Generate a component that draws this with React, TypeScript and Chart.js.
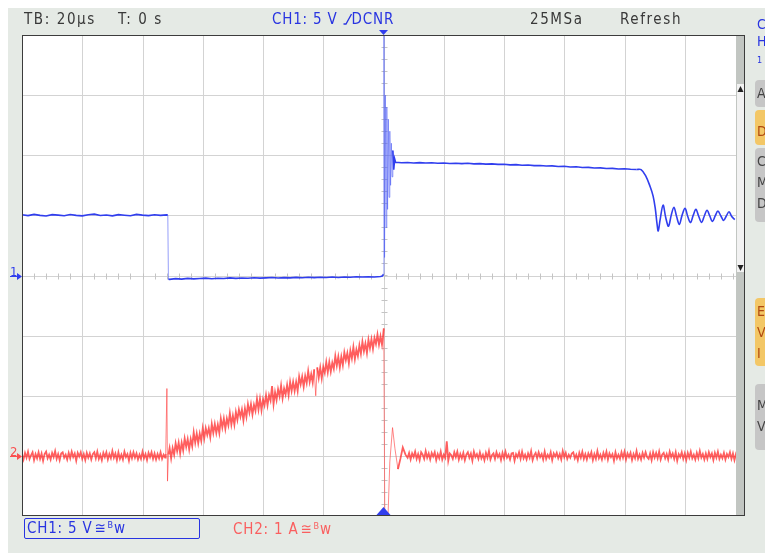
import React, { useEffect, useRef } from "react";
import { Chart, registerables } from "chart.js";

Chart.register(...registerables);

// ---------- scope settings ----------
const TIME_MIN_US = -120;
const TIME_MAX_US = 120;
const TIME_PER_DIV_US = 20;
const MINOR_PER_DIV = 5;
const DIV_MIN = -4;
const DIV_MAX = 4;

const CH1_VOLTS_PER_DIV = 5;
const CH1_GROUND_DIV = 0;
const CH2_AMPS_PER_DIV = 1;
const CH2_GROUND_DIV = -3;

// ---------- CH1 (volts) ----------
const ch1BeforeStartUs = -120;
const ch1BeforeStepUs = 2;
const ch1Before = [5.05, 4.98, 5.08, 5.0, 4.95, 5.06, 5.02, 4.97, 5.07, 5.0, 4.96, 5.05, 5.1, 4.99, 5.03, 4.96, 5.06, 5.01, 4.97, 5.08, 5.02, 4.98, 5.05, 5.0, 5.04];
const ch1FallingEdge: [number, number][] = [[-71.6, 5.02], [-71.4, -0.3]];
const ch1LowStartUs = -71;
const ch1LowStepUs = 2;
const ch1Low = [-0.32, -0.26, -0.3, -0.24, -0.28, -0.25, -0.22, -0.27, -0.23, -0.25, -0.2, -0.24, -0.21, -0.23, -0.19, -0.22, -0.2, -0.17, -0.21, -0.18, -0.2, -0.16, -0.19, -0.15, -0.18, -0.14, -0.17, -0.13, -0.16, -0.12, -0.15, -0.11, -0.13, -0.1, -0.12, -0.08];
const ch1TriggerRinging: [number, number][] = [
  [-0.4, -0.05], [0, 0.1], [0.15, 21], [0.35, 1.5], [0.6, 15], [0.85, 4], [1.1, 14], [1.35, 5.5],
  [1.6, 13], [1.85, 6.5], [2.1, 12], [2.35, 7.5], [2.6, 11], [2.85, 8.2], [3.1, 10.4], [3.4, 8.8], [3.7, 9.7],
];
const ch1PlateauStartUs = 4;
const ch1PlateauStepUs = 2;
const ch1Plateau = [9.42, 9.38, 9.4, 9.36, 9.39, 9.35, 9.37, 9.33, 9.36, 9.32, 9.34, 9.3, 9.33, 9.28, 9.3, 9.26, 9.28, 9.24, 9.25, 9.2, 9.22, 9.17, 9.19, 9.14, 9.15, 9.1, 9.12, 9.06, 9.08, 9.02, 9.04, 8.98, 8.99, 8.94, 8.95, 8.9, 8.91, 8.86, 8.88, 8.83, 8.82];
const ch1TailRinging: [number, number][] = [
  [85.5, 8.8], [87, 8.3], [88.5, 7.4], [89.5, 6.6], [90.2, 5.6], [90.8, 4.3], [91.2, 3.7], [91.8, 4.6],
  [92.8, 5.85], [93.7, 4.8], [94.6, 4.1], [95.5, 5.0], [96.4, 5.68], [97.3, 4.9], [98.2, 4.25], [99.1, 5.0],
  [100.1, 5.58], [101.0, 4.9], [101.9, 4.4], [102.8, 5.0], [103.7, 5.5], [104.6, 4.95], [105.6, 4.42],
  [106.5, 4.95], [107.4, 5.42], [108.3, 4.95], [109.2, 4.5], [110.1, 4.95], [111.0, 5.35], [112.0, 4.95],
  [112.9, 4.58], [113.8, 4.95], [114.7, 5.3], [115.6, 4.9], [116.6, 4.65],
];

// ---------- CH2 (amps) ----------
const ch2BeforeStartUs = -120;
const ch2BeforeStepUs = 0.5;
const ch2Before = [
  0.02, -0.06, 0.05, -0.03, 0.07, -0.05, 0.01, 0.06, -0.07, 0.03,
  -0.04, 0.06, -0.05, 0.04, -0.08, 0.03, 0.07, -0.04, 0.02, -0.06,
  0.05, -0.02, 0.08, -0.05, 0.03, -0.07, 0.04, 0.06, -0.03, 0.02,
  -0.06, 0.05, -0.04, 0.07, -0.02, 0.04, -0.08, 0.05, -0.01, 0.06,
  -0.05, 0.03, -0.07, 0.05, -0.03, 0.04, -0.06, 0.03, 0.06, -0.04,
  0.07, -0.05, 0.02, -0.07, 0.05, -0.02, 0.06, -0.06, 0.03, -0.04,
  0.08, -0.03, 0.04, -0.07, 0.06, -0.05, 0.02, -0.06, 0.07, -0.02,
  0.03, -0.08, 0.05, -0.04, 0.06, -0.03, 0.04, -0.06, 0.02, -0.05,
  0.07, -0.04, 0.03, -0.07, 0.05, -0.02, 0.06, -0.05, 0.04, -0.06,
  0.03, -0.04, 0.06, -0.05, 0.02, -0.03,
];
const ch2SwitchOn: [number, number][] = [[-72.3, 0.03], [-71.9, 1.12], [-71.7, -0.42], [-71.4, 0.02]];
const ch2RampStartUs = -71;
const ch2RampStepUs = 0.5;
const ch2Ramp = [
  0.13, -0.04, 0.13, 0.02, 0.21, 0.08, 0.22, 0.04, 0.22, 0.09,
  0.29, 0.15, 0.28, 0.11, 0.28, 0.16, 0.39, 0.22, 0.37, 0.21,
  0.37, 0.25, 0.46, 0.29, 0.46, 0.35, 0.46, 0.31, 0.53, 0.38,
  0.53, 0.38, 0.52, 0.38, 0.62, 0.47, 0.62, 0.45, 0.62, 0.51,
  0.71, 0.52, 0.67, 0.52, 0.73, 0.6, 0.77, 0.65, 0.77, 0.59,
  0.79, 0.65, 0.86, 0.72, 0.86, 0.69, 0.85, 0.75, 0.95, 0.77,
  0.95, 0.76, 0.94, 0.84, 1.01, 0.84, 1.01, 0.92, 1.16, 0.86,
  1.06, 0.93, 1.11, 0.99, 1.17, 0.96, 1.12, 1.02, 1.18, 1.01,
  1.23, 1.08, 1.23, 1.08, 1.23, 1.08, 1.32, 1.19, 1.32, 1.15,
  1.33, 1.21, 1.41, 1.23, 1.36, 1.22, 1.44, 1.0, 1.47, 1.3,
  1.47, 1.29, 1.48, 1.38, 1.56, 1.39, 1.56, 1.4, 1.55, 1.45,
  1.66, 1.5, 1.65, 1.47, 1.65, 1.51, 1.72, 1.59, 1.71, 1.54,
  1.75, 1.62, 1.81, 1.61, 1.77, 1.66, 1.84, 1.7, 1.9, 1.74,
  1.87, 1.71, 1.93, 1.79, 1.94, 1.78, 1.96, 1.86, 2.02, 1.85,
  1.99, 1.85,
];
const ch2TurnOff: [number, number][] = [
  [-0.2, 1.97], [0.1, 2.12], [0.45, -1.3], [1.3, -1.3], [2.1, -0.1], [3.0, 0.47], [3.8, 0.12],
  [4.8, -0.22], [5.6, -0.05], [6.4, 0.14], [7.3, 0.02],
];
const ch2AfterStartUs = 8;
const ch2AfterStepUs = 0.5;
const ch2After = [
  -0.03, 0.05, -0.06, 0.04, -0.02, 0.07, -0.05, 0.03, -0.07, 0.06,
  0.02, -0.05, 0.08, -0.03, 0.04, -0.06, 0.05, -0.01, 0.06, -0.07,
  0.03, -0.04, 0.07, -0.06, 0.02, -0.03, 0.24, -0.08, 0.04, 0.01,
  -0.05, 0.06, -0.02, 0.07, -0.06, 0.03, -0.04, 0.05, -0.07, 0.02,
  0.06, -0.03, 0.04, -0.08, 0.07, -0.02, 0.03, -0.05, 0.06, -0.04,
  0.02, -0.07, 0.05, -0.03, 0.08, -0.06, 0.01, 0.04, -0.05, 0.06,
  -0.02, 0.03, -0.07, 0.05, -0.04, 0.07, -0.03, 0.02, -0.06, 0.04,
  0.05, -0.08, 0.03, -0.02, 0.06, -0.05, 0.07, -0.04, 0.02, -0.06,
  0.04, -0.03, 0.08, -0.07, 0.01, 0.05, -0.04, 0.06, -0.02, 0.03,
  -0.06, 0.07, -0.05, 0.02, -0.03, 0.06, -0.07, 0.04, -0.01, 0.05,
  -0.04, 0.03, -0.06, 0.08, -0.02, 0.05, -0.05, 0.02, -0.03, 0.04,
  0.06, -0.04, 0.02, -0.07, 0.05, -0.03, 0.07, -0.05, 0.03, -0.06,
  0.04, -0.02, 0.06, -0.07, 0.03, -0.05, 0.08, -0.04, 0.02, -0.06,
  0.05, -0.03, 0.07, -0.06, 0.04, -0.02, 0.03, -0.08, 0.06, -0.04,
  0.02, -0.05, 0.06, -0.03, 0.07, -0.06, 0.04, -0.02, 0.05, -0.07,
  0.03, -0.04, 0.08, -0.05, 0.02, -0.06, 0.05, -0.03, 0.06, -0.02,
  -0.05, 0.04, -0.07, 0.06, -0.03, 0.05, -0.04, 0.07, -0.06, 0.02,
  0.05, -0.04, 0.03, -0.06, 0.07, -0.02, 0.04, -0.05, 0.06, -0.08,
  0.03, -0.02, 0.06, -0.05, 0.04, -0.07, 0.05, -0.03, 0.07, -0.04,
  0.02, -0.06, 0.05, -0.04, 0.08, -0.03, 0.03, -0.06, 0.04, -0.05,
  0.06, -0.02, 0.04, -0.07, 0.05, -0.03, 0.07, -0.05, 0.02, -0.04,
  0.05, -0.06, 0.03, -0.02, 0.06, -0.05, 0.04, -0.07, 0.03, -0.03,
];

// ---------- header labels ----------
const headerLabels = [
  { text: "TB: 20µs", left: 16 },
  { text: "T: 0 s", left: 110 },
  { text: "25MSa", left: 522 },
  { text: "Refresh", left: 612 },
];

// ---------- colours ----------
const BG = "#e5eae5";
const GRID = "#d3d3d3";
const CH1_COLOR = "rgb(48,62,238)";
const CH1_EDGE = "rgba(80,95,245,0.6)";
const CH1_TEXT = "rgb(40,52,225)";
const CH2_COLOR = "rgba(255,38,38,0.74)";
const CH2_EDGE = "rgba(255,70,70,0.65)";
const CH2_TEXT = "rgb(250,95,95)";
const HEADER_TEXT = "#383838";
const FONT = '"DejaVu Sans Condensed", "DejaVu Sans", sans-serif';

// ---------- helpers ----------
const sampled = (t0: number, dt: number, vals: number[]): [number, number][] =>
  vals.map((v, i) => [t0 + i * dt, v]);
const toDiv = (pts: [number, number][], perDiv: number, ground: number) =>
  pts.map(([t, v]) => ({ x: t, y: v / perDiv + ground }));

const ch1PlateauPts = sampled(ch1PlateauStartUs, ch1PlateauStepUs, ch1Plateau);
const ch1Main = toDiv(
  [
    ...sampled(ch1BeforeStartUs, ch1BeforeStepUs, ch1Before),
    ...ch1FallingEdge,
    ...sampled(ch1LowStartUs, ch1LowStepUs, ch1Low),
    ...ch1TriggerRinging,
    ...ch1PlateauPts,
  ],
  CH1_VOLTS_PER_DIV,
  CH1_GROUND_DIV
);
const ch1Tail = toDiv([ch1PlateauPts[ch1PlateauPts.length - 1], ...ch1TailRinging], CH1_VOLTS_PER_DIV, CH1_GROUND_DIV);
const ch2All = toDiv(
  [
    ...sampled(ch2BeforeStartUs, ch2BeforeStepUs, ch2Before),
    ...ch2SwitchOn,
    ...sampled(ch2RampStartUs, ch2RampStepUs, ch2Ramp),
    ...ch2TurnOff,
    ...sampled(ch2AfterStartUs, ch2AfterStepUs, ch2After),
  ],
  CH2_AMPS_PER_DIV,
  CH2_GROUND_DIV
);

const steep = (ctx: any) => {
  const dx = Math.abs(ctx.p1.x - ctx.p0.x);
  const dy = Math.abs(ctx.p1.y - ctx.p0.y);
  return dy > 20 && dy > 6 * dx;
};

const scopePlugin = {
  id: "scopeScreen",
  beforeDraw(chart: any) {
    const { ctx, chartArea: a } = chart;
    ctx.save();
    ctx.fillStyle = "#ffffff";
    ctx.fillRect(a.left, a.top, a.right - a.left, a.bottom - a.top);
    ctx.restore();
  },
  beforeDatasetsDraw(chart: any) {
    const { ctx, chartArea: a, scales } = chart;
    const xs = scales.x;
    const ys = scales.y;
    ctx.save();
    ctx.strokeStyle = GRID;
    ctx.lineWidth = 1;
    ctx.beginPath();
    for (let t = TIME_MIN_US + TIME_PER_DIV_US; t < TIME_MAX_US; t += TIME_PER_DIV_US) {
      const px = Math.round(xs.getPixelForValue(t)) + 0.5;
      ctx.moveTo(px, a.top);
      ctx.lineTo(px, a.bottom);
    }
    for (let d = DIV_MIN + 1; d < DIV_MAX; d++) {
      const py = Math.round(ys.getPixelForValue(d)) + 0.5;
      ctx.moveTo(a.left, py);
      ctx.lineTo(a.right, py);
    }
    ctx.stroke();
    const cx = Math.round(xs.getPixelForValue(0)) + 0.5;
    const cy = Math.round(ys.getPixelForValue(0)) + 0.5;
    ctx.strokeStyle = "#c4c4c4";
    ctx.beginPath();
    const minorT = TIME_PER_DIV_US / MINOR_PER_DIV;
    for (let t = TIME_MIN_US + minorT; t < TIME_MAX_US; t += minorT) {
      const px = Math.round(xs.getPixelForValue(t)) + 0.5;
      ctx.moveTo(px, cy - 3);
      ctx.lineTo(px, cy + 3);
    }
    const minorD = 1 / MINOR_PER_DIV;
    for (let d = DIV_MIN + minorD; d < DIV_MAX - 1e-6; d += minorD) {
      const py = Math.round(ys.getPixelForValue(d)) + 0.5;
      ctx.moveTo(cx - 3, py);
      ctx.lineTo(cx + 3, py);
    }
    ctx.stroke();
    ctx.restore();
  },
  afterDatasetsDraw(chart: any) {
    const { ctx, chartArea: a, scales } = chart;
    const xs = scales.x;
    const ys = scales.y;
    ctx.save();
    const sbL = a.right - 9;
    ctx.fillStyle = "#c2c6c2";
    ctx.fillRect(sbL, a.top, 9, a.bottom - a.top);
    ctx.fillStyle = "#f2f2f2";
    ctx.fillRect(sbL + 1, a.top + 49, 8, 188);
    ctx.fillStyle = "#222";
    ctx.beginPath();
    ctx.moveTo(sbL + 1.5, a.top + 57);
    ctx.lineTo(sbL + 7.5, a.top + 57);
    ctx.lineTo(sbL + 4.5, a.top + 51);
    ctx.closePath();
    ctx.fill();
    ctx.beginPath();
    ctx.moveTo(sbL + 1.5, a.top + 230);
    ctx.lineTo(sbL + 7.5, a.top + 230);
    ctx.lineTo(sbL + 4.5, a.top + 236);
    ctx.closePath();
    ctx.fill();
    ctx.strokeStyle = "#3c3c3c";
    ctx.lineWidth = 1;
    ctx.strokeRect(a.left + 0.5, a.top + 0.5, a.right - a.left - 1, a.bottom - a.top - 1);
    const tx = xs.getPixelForValue(0);
    ctx.fillStyle = CH1_COLOR;
    ctx.beginPath();
    ctx.moveTo(tx - 4.5, a.top - 5);
    ctx.lineTo(tx + 4.5, a.top - 5);
    ctx.lineTo(tx, a.top);
    ctx.closePath();
    ctx.fill();
    ctx.beginPath();
    ctx.moveTo(tx - 7, a.bottom - 1);
    ctx.lineTo(tx + 7, a.bottom - 1);
    ctx.lineTo(tx, a.bottom - 9);
    ctx.closePath();
    ctx.fill();
    const marks = [
      { label: "1", div: CH1_GROUND_DIV, color: CH1_COLOR },
      { label: "2", div: CH2_GROUND_DIV, color: "rgb(250,80,80)" },
    ];
    for (const m of marks) {
      const py = Math.round(ys.getPixelForValue(m.div)) + 0.5;
      ctx.strokeStyle = m.color;
      ctx.fillStyle = m.color;
      ctx.lineWidth = 1;
      ctx.beginPath();
      ctx.moveTo(a.left - 12, py);
      ctx.lineTo(a.left - 4, py);
      ctx.stroke();
      ctx.beginPath();
      ctx.moveTo(a.left - 5, py - 3.5);
      ctx.lineTo(a.left, py);
      ctx.lineTo(a.left - 5, py + 3.5);
      ctx.closePath();
      ctx.fill();
      ctx.font = '13px "DejaVu Sans Condensed", "DejaVu Sans", sans-serif';
      ctx.textBaseline = "alphabetic";
      ctx.fillText(m.label, a.left - 12, py - 1);
    }
    ctx.restore();
  },
};

const rightButtons = [
  { top: 72, height: 27, bg: "#c6c6c6", color: "#444", letters: ["A"] },
  { top: 102, height: 35, bg: "#f3c766", color: "#b04a10", letters: ["", "D"] },
  { top: 140, height: 74, bg: "#c6c6c6", color: "#444", letters: ["C", "M", "D"] },
  { top: 290, height: 68, bg: "#f3c766", color: "#b04a10", letters: ["E", "V", "I"] },
  { top: 376, height: 66, bg: "#c6c6c6", color: "#444", letters: ["", "M", "V"] },
];

const bwMark = (
  <>
    <span style={{ marginLeft: 2 }}>≅</span>
    <span style={{ fontSize: 9, position: "relative", top: -5, marginLeft: 1 }}>B</span>
    <span>w</span>
  </>
);

export default function App() {
  const canvasRef = useRef<HTMLCanvasElement>(null);

  useEffect(() => {
    const canvas = canvasRef.current;
    if (!canvas) return;
    const chart = new Chart(canvas, {
      type: "line",
      data: {
        datasets: [
          {
            label: "CH1",
            data: ch1Main,
            borderColor: CH1_COLOR,
            borderWidth: 1.6,
            pointRadius: 0,
            tension: 0,
            segment: {
              borderColor: (c: any) => (steep(c) ? CH1_EDGE : undefined),
              borderWidth: (c: any) => (steep(c) ? 1 : undefined),
            },
          },
          { label: "CH1 tail", data: ch1Tail, borderColor: CH1_COLOR, borderWidth: 1.6, pointRadius: 0, tension: 0.35 },
          {
            label: "CH2",
            data: ch2All,
            borderColor: CH2_COLOR,
            borderWidth: 1.8,
            pointRadius: 0,
            tension: 0,
            segment: {
              borderColor: (c: any) => (steep(c) ? CH2_EDGE : undefined),
              borderWidth: (c: any) => (steep(c) ? 1 : undefined),
            },
          },
        ],
      },
      options: {
        responsive: false,
        animation: false,
        devicePixelRatio: 1,
        parsing: false,
        events: [],
        layout: { padding: { left: 14, top: 27, right: 20, bottom: 37 } },
        plugins: { legend: { display: false }, tooltip: { enabled: false } },
        scales: {
          x: { type: "linear", min: TIME_MIN_US, max: TIME_MAX_US, display: false },
          y: { type: "linear", min: DIV_MIN, max: DIV_MAX, display: false },
        },
      } as any,
      plugins: [scopePlugin],
    });
    return () => chart.destroy();
  }, []);

  const textBase: React.CSSProperties = {
    position: "absolute",
    whiteSpace: "nowrap",
    fontSize: 15,
    lineHeight: "20px",
    letterSpacing: "0.8px",
    fontFamily: FONT,
  };

  return (
    <div
      style={{
        position: "fixed",
        left: 8,
        top: 8,
        width: 757,
        height: 545,
        background: BG,
        overflow: "hidden",
        fontFamily: FONT,
      }}
    >
      <canvas ref={canvasRef} width={757} height={545} style={{ position: "absolute", left: 0, top: 0 }} />
      {headerLabels.map((h) => (
        <div key={h.text} style={{ ...textBase, left: h.left, top: 1, color: HEADER_TEXT, letterSpacing: "1.6px" }}>
          {h.text}
        </div>
      ))}
      <div style={{ ...textBase, left: 264, top: 1, color: CH1_TEXT }}>
        CH1: 5 V{" "}
        <svg width="9" height="12" style={{ verticalAlign: "-1px" }}>
          <polyline points="0.5,11 3,11 8.5,1" fill="none" stroke={CH1_TEXT} strokeWidth="1.3" />
        </svg>
        DCNR
      </div>
      <div
        style={{
          ...textBase,
          left: 16,
          top: 510,
          width: 172,
          height: 19,
          lineHeight: "19px",
          border: `1.5px solid ${CH1_TEXT}`,
          borderRadius: 2,
          color: CH1_TEXT,
          paddingLeft: 2,
          boxSizing: "content-box",
        }}
      >
        CH1: 5 V{bwMark}
      </div>
      <div style={{ ...textBase, left: 225, top: 511, color: CH2_TEXT }}>CH2: 1 A{bwMark}</div>
      <div style={{ ...textBase, left: 749, top: 8, color: CH1_TEXT, lineHeight: "17px", fontSize: 14 }}>
        C<br />H<br />
        <span style={{ fontSize: 9 }}>1</span>
      </div>
      {rightButtons.map((b, i) => (
        <div
          key={i}
          style={{
            position: "absolute",
            left: 747,
            top: b.top,
            width: 20,
            height: b.height,
            background: b.bg,
            borderRadius: 4,
            color: b.color,
            fontFamily: FONT,
            fontSize: 14,
            lineHeight: "21px",
            paddingTop: 3,
            paddingLeft: 2,
            boxSizing: "border-box",
          }}
        >
          {b.letters.map((l, j) => (
            <div key={j} style={{ height: l ? 21 : 8 }}>{l || "\u00a0"}</div>
          ))}
        </div>
      ))}
    </div>
  );
}
